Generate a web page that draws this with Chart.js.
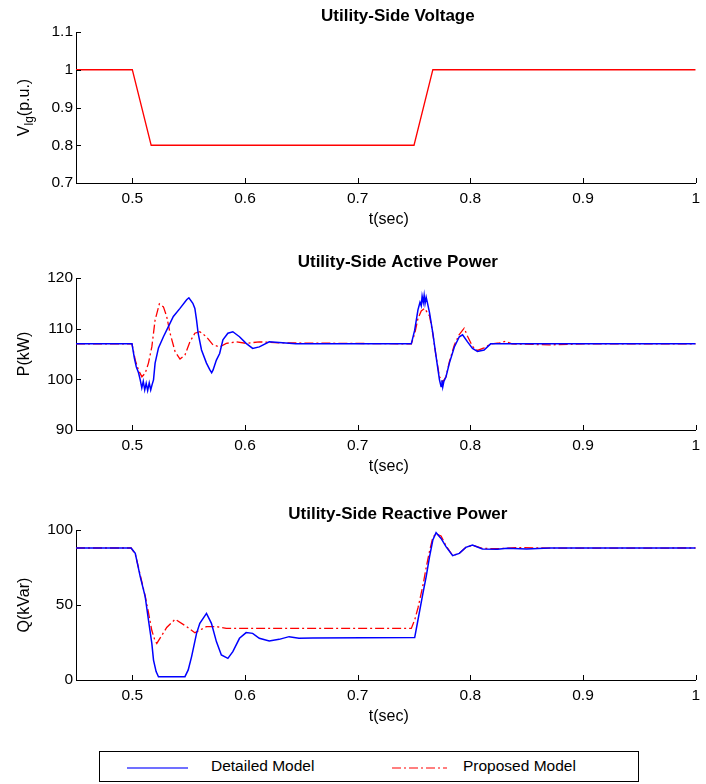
<!DOCTYPE html>
<html>
<head>
<meta charset="utf-8">
<script src="https://cdn.jsdelivr.net/npm/chart.js@4.4.1/dist/chart.umd.min.js"></script>
<style>
  body { margin: 0; background: #fff; }
  #wrap { position: relative; width: 706px; height: 784px; background: #fff; font-family: "Liberation Sans", Arial, sans-serif; }
  #wrap canvas { position: absolute; left: 0; }
  #legend { position: absolute; left: 99px; top: 751px; width: 538px; height: 29px; border: 1px solid #000; font-size: 15.5px; color: #000; }
  #legend svg { position: absolute; top: 14px; }
  #legend span { position: absolute; top: 5px; }
</style>
</head>
<body>
<div id="wrap">
  <canvas id="chartV" width="706" height="240" style="top:0px"></canvas>
  <canvas id="chartP" width="706" height="240" style="top:246px"></canvas>
  <canvas id="chartQ" width="706" height="240" style="top:498px"></canvas>
  <div id="legend">
    <svg style="left:27px" width="62" height="4"><line x1="0" y1="2" x2="61" y2="2" stroke="#7070ff" stroke-width="2"/></svg>
    <span style="left:111px">Detailed Model</span>
    <svg style="left:292px" width="56" height="4"><line x1="0" y1="2" x2="55" y2="2" stroke="#ff0000" stroke-width="1.2" stroke-dasharray="9,3,2,3"/></svg>
    <span style="left:363px">Proposed Model</span>
  </div>
</div>
<script>
// date
const xTicks = [0.5, 0.6, 0.7, 0.8, 0.9, 1];
const vTicks = [0.7, 0.8, 0.9, 1, 1.1];
const pTicks = [90, 100, 110, 120];
const qTicks = [0, 50, 100];

// tensiunea (p.u.)
const tVolt = [0.45, 0.5, 0.5167, 0.75, 0.7667, 1.0];
const vVolt = [1, 1, 0.8, 0.8, 1, 1];

// putere activa - model detaliat
const tPDet = [0.45, 0.4997, 0.5018, 0.5035, 0.5055, 0.507, 0.5084, 0.5097, 0.511, 0.5123, 0.5136, 0.515, 0.5163, 0.5176, 0.5188,
  0.5202, 0.5232, 0.5276, 0.532, 0.5364, 0.5423, 0.5482, 0.5502, 0.5537, 0.5555, 0.557, 0.5584, 0.5614, 0.5658, 0.5687, 0.5704,
  0.5716, 0.5746, 0.5775, 0.5804, 0.5848, 0.5892, 0.5951, 0.601, 0.6068, 0.6127, 0.6215, 0.6332, 0.645, 0.6655, 0.7476,
  0.7506, 0.7535, 0.7553, 0.7564, 0.7572, 0.7582, 0.759, 0.7598, 0.7608, 0.7622, 0.7638, 0.7667, 0.7696, 0.7726, 0.774,
  0.7748, 0.7755, 0.7765, 0.7784, 0.7814, 0.7858, 0.7902, 0.7931, 0.7975, 0.8019, 0.8063, 0.8122, 0.818, 1.0];
const pDet = [107, 107, 104.2, 102.5, 101.3, 99.9, 98.3, 99.6, 97.9, 99.2, 97.8, 99.3, 97.9, 99.0, 99.9,
  103.2, 106.2, 108.4, 110.4, 112.4, 114, 115.7, 116.1, 115, 114.0, 111.7, 109.1, 105.8, 103.2, 101.9, 101.3,
  101.8, 103.8, 105.1, 107.8, 109.1, 109.4, 108.4, 107.1, 106.1, 106.4, 107.4, 107.2, 107, 107, 107,
  109.7, 113.7, 115.2, 114.5, 116.4, 115.2, 116.6, 115, 116.2, 114.8, 113.1, 109.1, 104.5, 99.9, 98.6,
  99.8, 98.5, 99.6, 100.5, 103.2, 106.4, 108.4, 108.8, 107.4, 106.1, 105.5, 105.8, 107, 107];

// putere activa - model propus
const tPProp = [0.45, 0.4997, 0.5026, 0.5055, 0.5085, 0.5114, 0.5143, 0.5173, 0.5202, 0.524, 0.5276, 0.5305, 0.5335, 0.5379,
  0.5423, 0.5467, 0.5511, 0.5555, 0.5599, 0.5658, 0.5716, 0.5775, 0.5834, 0.5922, 0.601, 0.6127, 0.63, 0.7476,
  0.7506, 0.7535, 0.7564, 0.7594, 0.7638, 0.7667, 0.7696, 0.7726, 0.7755, 0.7784, 0.7814, 0.7858, 0.79, 0.7945, 0.7975,
  0.8019, 0.8063, 0.8122, 0.818, 0.826, 0.831, 0.837, 0.87, 0.9, 1.0];
const pProp = [107, 107, 103.8, 101.8, 100.5, 101.2, 103.2, 106.4, 111.7, 114.9, 114.3, 112.4, 109.1, 105.5,
  104.0, 104.8, 107.4, 109.1, 109.4, 108.4, 106.8, 106.4, 107.1, 107.4, 107.1, 107.4, 107.2, 107,
  109, 112, 113.5, 114, 112.5, 109, 104.5, 100.5, 99.5, 100.5, 103.5, 106.8, 108.8, 110.1, 108.5,
  106.5, 105.7, 106.2, 107, 107.2, 107.5, 107, 106.8, 107, 107];

// putere reactiva - model detaliat
const tQDet = [0.45, 0.4989, 0.5026, 0.507, 0.5114, 0.5143, 0.5173, 0.5188, 0.5211, 0.5232, 0.5467, 0.5496, 0.5526, 0.557,
  0.5599, 0.5658, 0.5702, 0.5746, 0.579, 0.5848, 0.5892, 0.5951, 0.601, 0.6068, 0.6127, 0.6215, 0.6303, 0.6391, 0.6479,
  0.66, 0.7506, 0.7535, 0.7579, 0.7608, 0.7638, 0.7667, 0.7696, 0.774, 0.7784, 0.7843, 0.7902, 0.796, 0.8019, 0.8107,
  0.824, 0.8327, 0.85, 0.87, 1.0];
const qDet = [88, 88, 84.4, 68.9, 55.6, 40, 24.4, 13.3, 5.6, 2.2, 2.2, 6.7, 15.6, 31.1,
  37.8, 44.4, 37.8, 25.6, 16.7, 14.4, 18.9, 27.8, 31.6, 31.1, 27.8, 26, 27.1, 28.9, 27.8,
  28, 28.3, 40, 57.8, 68.9, 82.2, 93.3, 98.2, 94.4, 88.9, 82.9, 84.4, 88.4, 90, 87.3,
  87.1, 87.8, 87.4, 88, 88];

// putere reactiva - model propus
const tQProp = [0.45, 0.4989, 0.5026, 0.507, 0.5114, 0.5143, 0.5173, 0.52, 0.5217, 0.5305, 0.538, 0.5482, 0.5555,
  0.5658, 0.5746, 0.5834, 0.62, 0.7476, 0.7506, 0.7535, 0.7579, 0.7608, 0.7638, 0.7667, 0.7696, 0.774, 0.7784,
  0.7843, 0.7902, 0.796, 0.8019, 0.8107, 0.824, 0.84, 0.87, 1.0];
const qProp = [88, 88, 84, 70, 56, 45, 33, 26.5, 24.4, 35, 40.5, 35.6, 31.5,
  35.6, 35.6, 34.4, 34.4, 34.4, 40, 48, 63, 75, 86, 95, 97.5, 96, 89.5,
  83, 84.5, 88.5, 89.8, 87.8, 87.5, 88.3, 87.9, 88];

const FONT = '"Liberation Sans", Arial, sans-serif';
Chart.defaults.font.family = FONT;
Chart.defaults.color = '#000';

const pts = (ts, vs) => ts.map((t, i) => ({ x: t, y: vs[i] }));
const fmt = v => String(Math.round(v * 100) / 100);

// axe in stil MATLAB: ticks spre interior, titlu, etichete
const matlabAxes = {
  id: 'matlabAxes',
  afterDraw(chart, args, opts) {
    const { ctx, chartArea: a, scales: { x, y } } = chart;
    ctx.save();
    ctx.strokeStyle = '#000';
    ctx.lineWidth = 1;
    ctx.beginPath();
    x.ticks.forEach(t => {
      const px = Math.round(x.getPixelForValue(t.value)) + 0.5;
      ctx.moveTo(px, a.bottom);
      ctx.lineTo(px, a.bottom - 5);
    });
    y.ticks.forEach(t => {
      const py = Math.round(y.getPixelForValue(t.value)) + 0.5;
      ctx.moveTo(a.left, py);
      ctx.lineTo(a.left + 5, py);
    });
    ctx.stroke();

    ctx.fillStyle = '#000';
    ctx.textAlign = 'center';
    ctx.textBaseline = 'middle';
    ctx.font = 'bold 17px ' + FONT;
    ctx.fillText(opts.title, (a.left + a.right) / 2 + 12, a.top - 16);
    ctx.font = '16px ' + FONT;
    ctx.fillText(opts.xLabel, (a.left + a.right) / 2 + 3, a.bottom + 37);

    // eticheta Y rotita, cu indice optional
    ctx.translate(25, (a.top + a.bottom) / 2);
    ctx.rotate(-Math.PI / 2);
    ctx.textAlign = 'left';
    const segs = opts.yLabel;
    let total = 0;
    segs.forEach(s => {
      ctx.font = (s.sub ? '12px ' : '16px ') + FONT;
      s.w = ctx.measureText(s.text).width;
      total += s.w;
    });
    let cx = -total / 2;
    segs.forEach(s => {
      ctx.font = (s.sub ? '12px ' : '16px ') + FONT;
      ctx.fillText(s.text, cx, s.sub ? 5 : 0);
      cx += s.w;
    });
    ctx.restore();
  }
};

function makeChart(id, datasets, yMin, yMax, yTicks, xAxisH, labels) {
  return new Chart(document.getElementById(id), {
    type: 'line',
    data: { datasets: datasets },
    options: {
      responsive: false,
      animation: false,
      devicePixelRatio: 1,
      layout: { padding: { top: 32, right: 6, left: 0, bottom: 0 } },
      elements: { point: { radius: 0 }, line: { tension: 0 } },
      plugins: { legend: { display: false }, tooltip: { enabled: false }, matlabAxes: labels },
      scales: {
        x: {
          type: 'linear', min: 0.45, max: 1,
          afterBuildTicks: s => { s.ticks = xTicks.map(v => ({ value: v })); },
          afterFit: s => { s.height = xAxisH; },
          grid: { display: false, drawTicks: false },
          border: { display: true, color: '#000', width: 1 },
          ticks: { font: { size: 15.5 }, color: '#000', padding: 6, maxRotation: 0, autoSkip: false, callback: fmt }
        },
        y: {
          type: 'linear', min: yMin, max: yMax,
          afterBuildTicks: s => { s.ticks = yTicks.map(v => ({ value: v })); },
          afterFit: s => { s.width = 76; },
          grid: { display: false, drawTicks: false },
          border: { display: true, color: '#000', width: 1 },
          ticks: { font: { size: 15.5 }, color: '#000', padding: 3, autoSkip: false, callback: fmt }
        }
      }
    },
    plugins: [matlabAxes]
  });
}

const detStyle = { borderColor: '#0000ff', borderWidth: 1.5, fill: false };
const propStyle = { borderColor: '#ff0000', borderWidth: 1.3, borderDash: [9, 3, 2, 3], fill: false };

makeChart('chartV', [
  { label: 'Vlg', data: pts(tVolt, vVolt), borderColor: '#ff0000', borderWidth: 1.3, fill: false }
], 0.7, 1.1, vTicks, 57, {
  title: 'Utility-Side Voltage', xLabel: 't(sec)',
  yLabel: [{ text: 'V' }, { text: 'lg', sub: true }, { text: '(p.u.)' }]
});

makeChart('chartP', [
  Object.assign({ label: 'Detailed Model', data: pts(tPDet, pDet) }, detStyle),
  Object.assign({ label: 'Proposed Model', data: pts(tPProp, pProp) }, propStyle)
], 90, 120, pTicks, 56, {
  title: 'Utility-Side Active Power', xLabel: 't(sec)', yLabel: [{ text: 'P(kW)' }]
});

makeChart('chartQ', [
  Object.assign({ label: 'Detailed Model', data: pts(tQDet, qDet) }, detStyle),
  Object.assign({ label: 'Proposed Model', data: pts(tQProp, qProp) }, propStyle)
], 0, 100, qTicks, 58, {
  title: 'Utility-Side Reactive Power', xLabel: 't(sec)', yLabel: [{ text: 'Q(kVar)' }]
});
</script>
</body>
</html>
